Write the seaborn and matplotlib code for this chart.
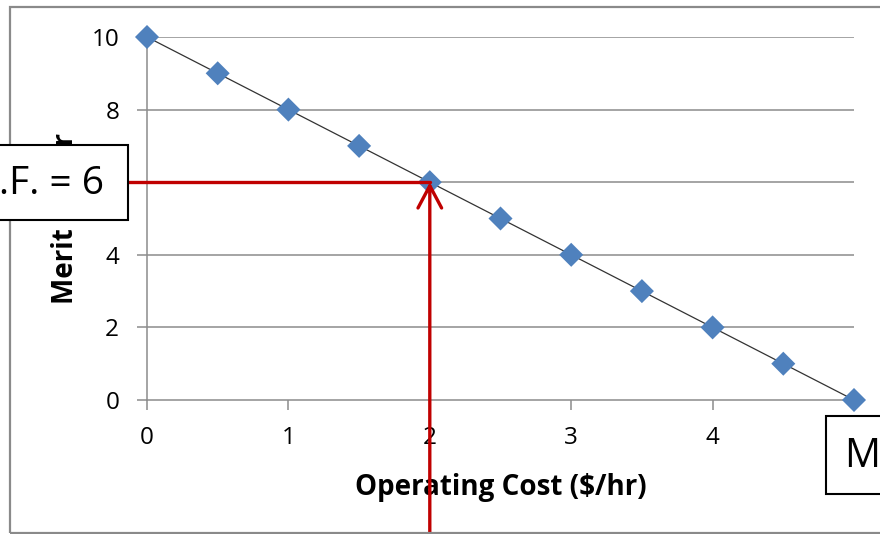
import matplotlib
matplotlib.use("Agg")
import matplotlib.pyplot as plt
import seaborn as sns
import pandas as pd
from matplotlib.patches import Rectangle

# data
operating_cost = [0, 0.5, 1, 1.5, 2, 2.5, 3, 3.5, 4, 4.5, 5]
merit_factor = [10, 9, 8, 7, 6, 5, 4, 3, 2, 1, 0]
x_ticks = [0, 1, 2, 3, 4, 5]
y_ticks = [0, 2, 4, 6, 8, 10]
pick_cost = 2
pick_mf = 6

df = pd.DataFrame({"cost": operating_cost, "mf": merit_factor})

sns.set_style("white")
plt.rcParams["font.family"] = ["Open Sans", "DejaVu Sans"]
plt.rcParams["text.color"] = "black"
plt.rcParams["axes.labelcolor"] = "black"

W, H = 880, 534
fig = plt.figure(figsize=(W / 100, H / 100), dpi=100)

def fx(px):
    return px / W

def fy(py):
    return 1 - py / H

ax = fig.add_axes([fx(147), fy(400), fx(854) - fx(147), fy(37) - fy(400)])

grid_c = "#8c8c8c"
for v in y_ticks[1:]:
    ax.axhline(v, color=grid_c, lw=1.1, zorder=1)

sns.lineplot(data=df, x="cost", y="mf", ax=ax, color="#333333", lw=0.9, zorder=2)
sns.scatterplot(data=df, x="cost", y="mf", ax=ax, marker="D", s=150,
                color="#4f81bd", edgecolor="none", zorder=3, clip_on=False)

ax.set_xlim(0, 5)
ax.set_ylim(0, 10)
ax.set_xticks(x_ticks)
ax.set_yticks(y_ticks)
ax.tick_params(axis="both", length=7, width=1.1, color=grid_c, labelsize=17.5,
               labelcolor="black", direction="out", left=True, bottom=True)
ax.tick_params(axis="x", pad=12)
ax.tick_params(axis="y", pad=13)
for s in ["top", "right"]:
    ax.spines[s].set_visible(False)
for s in ["left", "bottom"]:
    ax.spines[s].set_color(grid_c)
    ax.spines[s].set_linewidth(1.1)

ax.set_xlabel("Operating Cost ($/hr)", fontsize=20, fontweight="bold", labelpad=16)
ax.set_ylabel("Merit Factor", fontsize=20, fontweight="bold", labelpad=8)

# red guide lines
red = "#c00000"
ax.plot([-0.3, pick_cost], [pick_mf, pick_mf], color=red, lw=2.4, clip_on=False, zorder=4)
ax.annotate("", xy=(pick_cost, pick_mf), xycoords="data",
            xytext=(pick_cost, -0.05), textcoords=("data", "figure fraction"),
            arrowprops=dict(arrowstyle="->,head_length=1.6,head_width=0.85",
                            color=red, lw=2.4, shrinkA=0, shrinkB=0),
            annotation_clip=False, zorder=4)

# outer chart frame
fig.patches.append(Rectangle((fx(10), fy(533)), fx(900) - fx(10), fy(7) - fy(533),
                             transform=fig.transFigure, fill=False,
                             edgecolor="#8a8a8a", lw=1.6, zorder=0))

# callout boxes
fig.patches.append(Rectangle((fx(-60), fy(220)), fx(128) - fx(-60), fy(145) - fy(220),
                             transform=fig.transFigure, facecolor="white",
                             edgecolor="black", lw=1.5, zorder=5))
fig.text(fx(104), fy(184), "M.F. = 6", ha="right", va="center", fontsize=28, zorder=6)

fig.patches.append(Rectangle((fx(826), fy(494)), fx(960) - fx(826), fy(416) - fy(494),
                             transform=fig.transFigure, facecolor="white",
                             edgecolor="black", lw=1.5, zorder=5))
fig.text(fx(845), fy(457), "M.C. = 2", ha="left", va="center", fontsize=29, zorder=6)

fig.savefig("out.png", dpi=100)
